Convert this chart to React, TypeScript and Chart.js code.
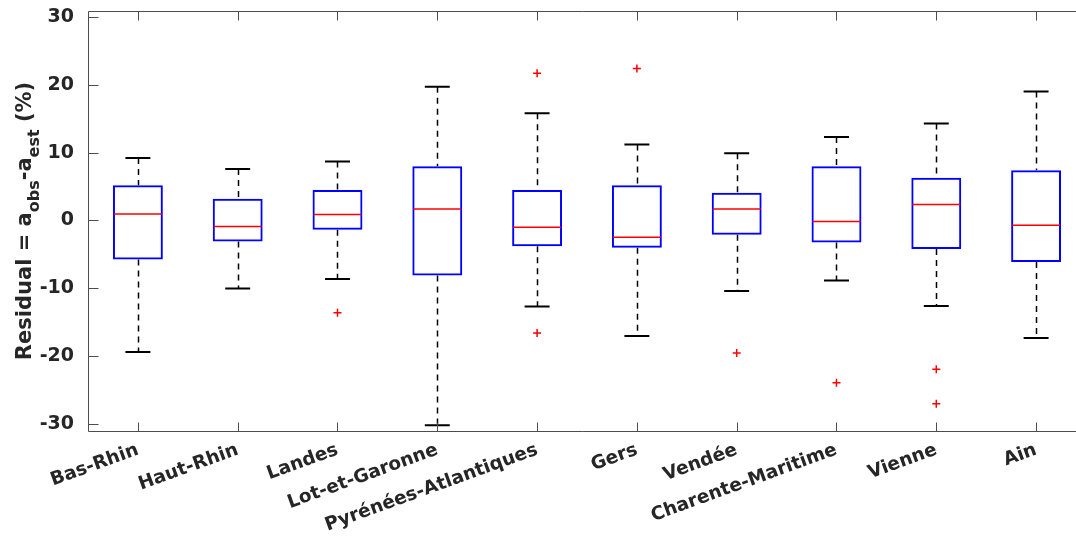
import React, { useEffect, useRef } from 'react';
import { Chart, registerables } from 'chart.js';

Chart.register(...registerables);

const categories = ['Bas-Rhin', 'Haut-Rhin', 'Landes', 'Lot-et-Garonne', 'Pyrénées-Atlantiques', 'Gers', 'Vendée', 'Charente-Maritime', 'Vienne', 'Ain'];
const whiskerHigh = [9.2, 7.6, 8.7, 19.7, 15.8, 11.2, 9.9, 12.3, 14.3, 19.0];
const q3 = [5.2, 3.2, 4.5, 8.0, 4.5, 5.2, 4.1, 8.0, 6.3, 7.4];
const median = [0.95, -0.9, 0.9, 1.7, -1.0, -2.45, 1.7, -0.15, 2.35, -0.7];
const q1 = [-5.75, -3.1, -1.35, -8.1, -3.8, -4.0, -2.1, -3.25, -4.2, -6.1];
const whiskerLow = [-19.35, -10.0, -8.6, -30.15, -12.65, -17.0, -10.4, -8.85, -12.6, -17.3];
const outliers: number[][] = [[], [], [-13.6], [], [21.7, -16.55], [22.4], [-19.5], [-23.9], [-21.9, -27.0], []];
const yTicks = [-30, -20, -10, 0, 10, 20, 30];

const titleParts = [
  { t: 'Residual = a', sub: false },
  { t: 'obs', sub: true },
  { t: '-a', sub: false },
  { t: 'est', sub: true },
  { t: ' (%)', sub: false },
];

const TEXT = '#262626';
const AXIS = '#4d4d4d';
const FONT = '"DejaVu Sans", sans-serif';

const boxPlugin = {
  id: 'boxExtras',
  beforeDatasetsDraw(chart: any) {
    const { ctx, scales } = chart;
    const xs = scales.x, ys = scales.y;
    ctx.save();
    for (let i = 0; i < categories.length; i++) {
      const xv = i + 1;
      const x = Math.round(xs.getPixelForValue(xv)) + 0.5;
      ctx.strokeStyle = '#000000';
      ctx.lineWidth = 1.5;
      ctx.setLineDash([6, 5]);
      ctx.beginPath();
      ctx.moveTo(x, ys.getPixelForValue(whiskerHigh[i]));
      ctx.lineTo(x, ys.getPixelForValue(q3[i]));
      ctx.moveTo(x, ys.getPixelForValue(q1[i]));
      ctx.lineTo(x, ys.getPixelForValue(whiskerLow[i]));
      ctx.stroke();
      ctx.setLineDash([]);
      ctx.lineWidth = 2;
      const cl = xs.getPixelForValue(xv - 0.125);
      const cr = xs.getPixelForValue(xv + 0.125);
      ctx.beginPath();
      const yh = ys.getPixelForValue(whiskerHigh[i]);
      const yl = ys.getPixelForValue(whiskerLow[i]);
      ctx.moveTo(cl, yh); ctx.lineTo(cr, yh);
      ctx.moveTo(cl, yl); ctx.lineTo(cr, yl);
      ctx.stroke();
    }
    ctx.restore();
  },
  afterDatasetsDraw(chart: any) {
    const { ctx, scales, chartArea } = chart;
    const xs = scales.x, ys = scales.y;
    ctx.save();
    ctx.strokeStyle = '#ff0000';
    ctx.lineWidth = 1.5;
    for (let i = 0; i < categories.length; i++) {
      const xv = i + 1;
      const y = ys.getPixelForValue(median[i]);
      ctx.beginPath();
      ctx.moveTo(xs.getPixelForValue(xv - 0.25) + 1, y);
      ctx.lineTo(xs.getPixelForValue(xv + 0.25) - 1, y);
      ctx.stroke();
    }
    ctx.strokeStyle = AXIS;
    ctx.lineWidth = 1;
    const L = Math.round(chartArea.left) + 0.5;
    const T = Math.round(chartArea.top) + 0.5;
    const B = Math.round(chartArea.bottom) + 0.5;
    const R = chartArea.right + 2;
    ctx.beginPath();
    ctx.moveTo(R, T); ctx.lineTo(L, T); ctx.lineTo(L, B); ctx.lineTo(R, B);
    ctx.stroke();
    ctx.beginPath();
    xs.ticks.forEach((t: any) => {
      const x = Math.round(xs.getPixelForValue(t.value)) + 0.5;
      ctx.moveTo(x, T); ctx.lineTo(x, T + 9);
      ctx.moveTo(x, B); ctx.lineTo(x, B - 9);
    });
    ys.ticks.forEach((t: any) => {
      const y = Math.round(ys.getPixelForValue(t.value)) + 0.5;
      ctx.moveTo(L, y); ctx.lineTo(L + 10, y);
    });
    ctx.stroke();
    ctx.restore();
  },
  afterDraw(chart: any) {
    const { ctx, chartArea } = chart;
    ctx.save();
    ctx.translate(31, (chartArea.top + chartArea.bottom) / 2);
    ctx.rotate(-Math.PI / 2);
    ctx.fillStyle = TEXT;
    ctx.textBaseline = 'alphabetic';
    ctx.textAlign = 'left';
    const mainFont = `bold 21px ${FONT}`;
    const subFont = `bold 16px ${FONT}`;
    let total = 0;
    const widths = titleParts.map((p) => {
      ctx.font = p.sub ? subFont : mainFont;
      const w = ctx.measureText(p.t).width;
      total += w;
      return w;
    });
    let x = -total / 2;
    titleParts.forEach((p, i) => {
      ctx.font = p.sub ? subFont : mainFont;
      ctx.fillText(p.t, x, p.sub ? 8 : 0);
      x += widths[i];
    });
    ctx.restore();
  },
};

export default function App() {
  const ref = useRef<HTMLCanvasElement>(null);
  useEffect(() => {
    const boxData = categories.map((_, i) => ({ x: i + 1, y: [q1[i], q3[i]] }));
    const outlierData: { x: number; y: number }[] = [];
    outliers.forEach((arr, i) => arr.forEach((v) => outlierData.push({ x: i + 1, y: v })));
    const chart = new Chart(ref.current as HTMLCanvasElement, {
      type: 'bar',
      data: {
        datasets: [
          {
            type: 'bar',
            data: boxData as any,
            backgroundColor: 'rgba(0,0,0,0)',
            borderColor: '#0000ff',
            borderWidth: 2,
            borderSkipped: false as any,
            barPercentage: 0.5,
            categoryPercentage: 1,
            order: 2,
          } as any,
          {
            type: 'scatter',
            data: outlierData as any,
            pointStyle: 'cross',
            radius: 4,
            borderColor: '#ff0000',
            borderWidth: 1.5,
            order: 1,
          } as any,
        ],
      },
      options: {
        animation: false,
        responsive: false,
        devicePixelRatio: 1,
        layout: { autoPadding: false, padding: { top: 11, left: 0, right: 0, bottom: 0 } },
        plugins: { legend: { display: false }, tooltip: { enabled: false } },
        scales: {
          x: {
            type: 'linear',
            offset: false,
            min: 0.5,
            max: 10.4,
            grid: { display: false, offset: false },
            border: { display: false },
            afterBuildTicks: (axis: any) => {
              axis.ticks = categories.map((_, i) => ({ value: i + 1 }));
            },
            afterFit: (axis: any) => {
              axis.height = 106;
              axis.paddingLeft = 0;
              axis.paddingRight = 0;
            },
            ticks: {
              autoSkip: false,
              maxRotation: 20,
              minRotation: 20,
              padding: 0,
              color: TEXT,
              font: { family: FONT, size: 18.5, weight: 'bold' },
              callback: (v: any) => categories[Math.round(Number(v)) - 1] ?? '',
            },
          },
          y: {
            type: 'linear',
            min: -31,
            max: 30.85,
            grid: { display: false },
            border: { display: false },
            afterBuildTicks: (axis: any) => {
              axis.ticks = yTicks.map((v) => ({ value: v }));
            },
            afterFit: (axis: any) => {
              axis.width = 88;
              axis.paddingTop = 0;
              axis.paddingBottom = 0;
            },
            ticks: {
              padding: 6,
              color: TEXT,
              font: { family: FONT, size: 19, weight: 'bold' },
              callback: (v: any) => String(v),
            },
          },
        },
      } as any,
      plugins: [boxPlugin],
    });
    return () => chart.destroy();
  }, []);
  return (
    <div style={{ position: 'absolute', left: 0, top: 0, width: 1076, height: 537, background: '#fff' }}>
      <canvas ref={ref} width={1076} height={537} style={{ display: 'block' }} />
    </div>
  );
}
